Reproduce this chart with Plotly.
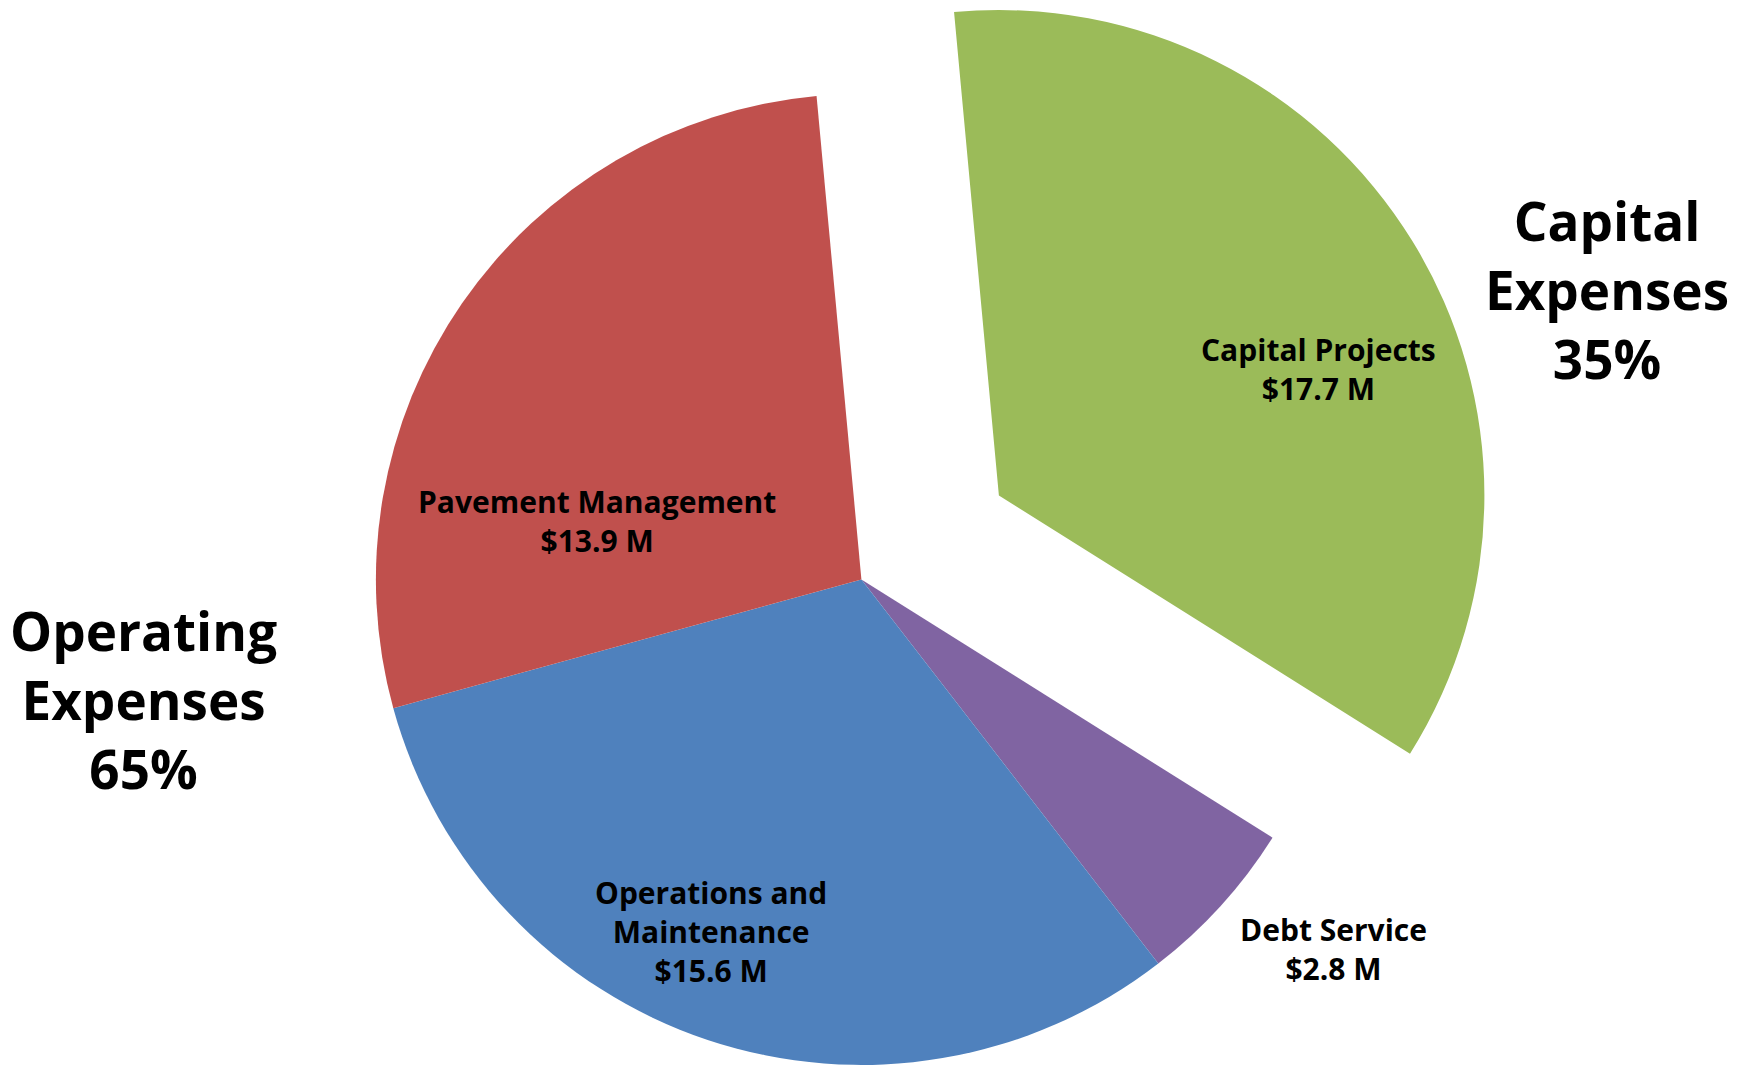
"""Road fund expenditures pie: capital vs operating split."""

import plotly.graph_objects as go

# budget categories, $ millions
LABELS = ["Capital Projects", "Debt Service", "Operations and Maintenance", "Pavement Management"]
DISPLAY = ["Capital Projects", "Debt Service", "Operations and<br>Maintenance", "Pavement Management"]
VALUES = [17.7, 2.8, 15.6, 13.9]
COLORS = ["#9BBB59", "#8064A2", "#4F81BD", "#C0504D"]

GROUPS = ["Capital<br>Expenses", "Operating<br>Expenses"]
GROUP_MEMBERS = [["Capital Projects"], ["Debt Service", "Operations and Maintenance", "Pavement Management"]]

W, H = 1754, 1066
PAD = 8  # page body margin around the plot div
FW, FH = W - 2 * PAD, H - PAD
FONT = "Open Sans"


def px_x(x):
    # page pixel -> paper fraction
    return (x - PAD) / FW


def px_y(y):
    return 1 - (y - PAD) / FH


total = sum(VALUES)
pulled = LABELS[0]

# main pie, pulled slice left empty
main_colors = ["rgba(0,0,0,0)" if lab == pulled else c for lab, c in zip(LABELS, COLORS)]
# pulled slice drawn as its own trace shifted outward
pull_colors = [c if lab == pulled else "rgba(0,0,0,0)" for lab, c in zip(LABELS, COLORS)]

R = 485.5
cx, cy = 861.4, 579.4
dx, dy = 137.5, -83.9

fig = go.Figure()
for colors, (ox, oy) in [(main_colors, (0, 0)), (pull_colors, (dx, dy))]:
    fig.add_trace(
        go.Pie(
            labels=LABELS,
            values=VALUES,
            sort=False,
            direction="clockwise",
            rotation=-5.3,
            marker=dict(colors=colors, line=dict(width=0)),
            textinfo="none",
            hoverinfo="label+value",
            showlegend=False,
            domain=dict(
                x=[max(0, px_x(cx + ox - R)), min(1, px_x(cx + ox + R))],
                y=[max(0, px_y(cy + oy + R)), min(1, px_y(cy + oy - R))],
            ),
        )
    )

# slice labels
label_pos = [(1318, 369), (1333, 949), (711, 931), (597, 521)]
for disp, val, (x, y) in zip(DISPLAY, VALUES, label_pos):
    fig.add_annotation(
        x=px_x(x), y=px_y(y), xref="paper", yref="paper",
        xanchor="center", yanchor="middle",
        text=f"{disp}<br>${val} M", showarrow=False,
        font=dict(family=FONT, size=30, color="black", weight="bold"),
        align="center",
    )

# group labels
group_pos = [(1607, 289), (143, 699)]
for name, members, (x, y) in zip(GROUPS, GROUP_MEMBERS, group_pos):
    share = sum(v for lab, v in zip(LABELS, VALUES) if lab in members) / total * 100
    fig.add_annotation(
        x=px_x(x), y=px_y(y), xref="paper", yref="paper",
        xanchor="center", yanchor="middle",
        text=f"{name}<br>{share:.0f}%", showarrow=False,
        font=dict(family=FONT, size=53, color="black", weight="bold"),
        align="center",
    )

fig.update_layout(
    width=FW,
    height=FH,
    margin=dict(l=0, r=0, t=0, b=0),
    paper_bgcolor="white",
    plot_bgcolor="white",
)

fig.write_html("out.html")
